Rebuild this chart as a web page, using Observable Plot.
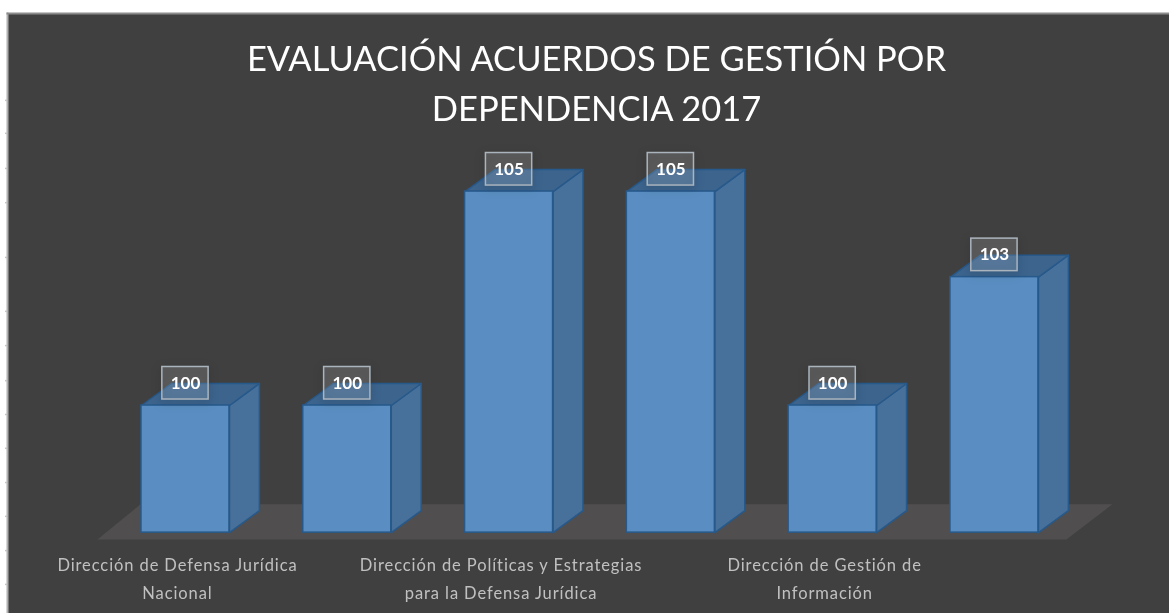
<!DOCTYPE html>
<html>
<head>
<meta charset="utf-8">
<script src="https://cdn.jsdelivr.net/npm/d3@7"></script>
<script src="https://cdn.jsdelivr.net/npm/@observablehq/plot@0.6"></script>
<style>
html,body{margin:0;padding:0;background:#fff;overflow:hidden}
svg{display:block;filter:blur(.6px)}
.cat-label text{letter-spacing:.9px}
</style>
</head>
<body>
<div id="chart"></div>
<script>
const titleText = "EVALUACIÓN ACUERDOS DE GESTIÓN POR\nDEPENDENCIA 2017";
const categories = [0, 1, 2, 3, 4, 5];
const values = [100, 100, 105, 105, 100, 103];
const tickLabels = ["Dirección de Defensa Jurídica\nNacional", "", "Dirección de Políticas y Estrategias\npara la Defensa Jurídica", "", "Dirección de Gestión de\nInformación", ""];
const sideTicks = [107.13, 106.36, 105.54, 104.74, 103.46, 102.2, 101.4, 100.58, 99.79, 99.0, 98.2, 97.41, 96.61, 95.82];

const baseValue = 97.03;      // value at the front foot of the columns
const halfW = 0.272;          // half column width, in category units
const depthX = 0.185;         // receding offset, category units
const depthY = 0.514;         // receding offset, value units

const rows = categories.map((c, i) => ({c, v: values[i], label: tickLabels[i]}));
const poly = (face) => rows.flatMap(({c, v}) => face(c, v).map(([x, y]) => ({x, y, z: c})));

const sideFaces = poly((c, v) => [
  [c + halfW, baseValue], [c + halfW + depthX, baseValue + depthY],
  [c + halfW + depthX, v + depthY], [c + halfW, v], [c + halfW, baseValue]
]);
const topFaces = poly((c, v) => [
  [c - halfW, v], [c - halfW + depthX, v + depthY],
  [c + halfW + depthX, v + depthY], [c + halfW, v], [c - halfW, v]
]);
const floor = [
  {x: -0.544, y: 96.87}, {x: -0.278, y: 97.69},
  {x: 5.729, y: 97.69}, {x: 5.445, y: 96.87}
];

const chart = Plot.plot({
  width: 1169, height: 613,
  marginLeft: 7, marginTop: 13, marginRight: 0, marginBottom: 0,
  style: {background: "#ffffff", overflow: "hidden"},
  x: {domain: [-1.1, 6.082], axis: null},
  y: {domain: [95.14, 109.16], axis: null},
  marks: [
    Plot.frame({fill: "#404040", stroke: null}),
    Plot.frame({anchor: "left", stroke: "#b0b0b0", strokeWidth: 2}),
    Plot.frame({anchor: "top", stroke: "#8c8c8c", strokeWidth: 2}),
    Plot.ruleY(sideTicks, {x1: -1.1125, x2: -1.1, stroke: "#c4c4c4", strokeWidth: 1.5}),
    Plot.line(floor, {x: "x", y: "y", fill: "#504e4e", stroke: null}),
    Plot.line(sideFaces, {x: "x", y: "y", z: "z", fill: "#47709a", stroke: "#27598b", strokeWidth: 1.5}),
    Plot.line(topFaces, {x: "x", y: "y", z: "z", fill: "#3c648d", stroke: "#27598b", strokeWidth: 1.5}),
    Plot.rect(rows, {x1: d => d.c - halfW, x2: d => d.c + halfW, y1: baseValue, y2: "v", fill: "#5a8ec2", stroke: "#27598b", strokeWidth: 1.5}),
    Plot.rect(rows, {
      x1: d => d.c - 0.143, x2: d => d.c + 0.143,
      y1: d => d.v + 0.14, y2: d => d.v + 0.9,
      fill: "#ffffff", fillOpacity: 0.14, stroke: "#aab4bd", strokeWidth: 1.5,
      imageFilter: "drop-shadow(0 3px 5px rgba(0,0,0,.3))"
    }),
    Plot.text(rows, {x: "c", y: d => d.v + 0.52, text: d => String(d.v), fill: "#ffffff", fontSize: 17, fontWeight: 700, fontFamily: "Lato"}),
    Plot.text(rows, {x: "c", text: "label", frameAnchor: "bottom", lineAnchor: "bottom", dx: -8, dy: -15, fill: "#c0c0c0", fontSize: 16.5, lineHeight: 1.64, fontFamily: "Lato", className: "cat-label"}),
    Plot.text([titleText], {frameAnchor: "top", dx: 8, dy: 21.5, lineAnchor: "top", text: d => d, fill: "#ffffff", fontSize: 34.5, lineHeight: 1.45, fontFamily: "Lato"})
  ]
});
document.getElementById("chart").append(chart);
</script>
</body>
</html>
